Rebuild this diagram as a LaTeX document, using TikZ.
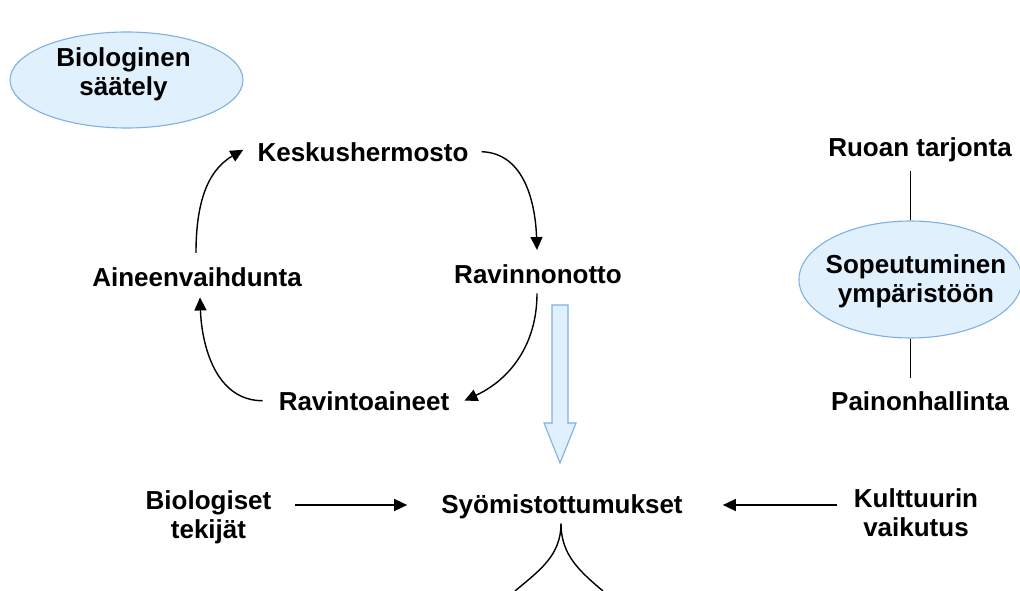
\documentclass[tikz,border=0pt]{standalone}
\usepackage{fontspec}
\setmainfont{Liberation Sans}
\usetikzlibrary{arrows.meta,shapes.geometric,calc}
\definecolor{ellfill}{HTML}{E1F0FD}
\definecolor{elldraw}{HTML}{7EB0E2}
\tikzset{
  txt/.style={inner sep=0pt, font=\fontsize{26}{29.5}\selectfont\bfseries, align=center},
  ell/.style={ellipse, draw=elldraw, fill=ellfill, line width=1.1pt, inner sep=0pt},
  arr/.style={line width=1.4pt, -{Triangle[length=13pt,width=12pt]}},
  plain/.style={line width=1.4pt},
  blockarrow/.style={draw=elldraw, fill=ellfill, line width=1.1pt, line join=miter}
}
\begin{document}
\begin{tikzpicture}[x=1pt,y=-1pt]
\useasboundingbox (0,0) rectangle (1020,591);
% ellipses
\node[ell, minimum width=233pt, minimum height=96pt] (bioe) at (126.5,80) {};
\node[txt, anchor=north] (biot) at (123.5,47.4) {Biologinen\\säätely};
\node[ell, minimum width=223pt, minimum height=117pt] (sop) at (910.5,279.5) {};
\node[txt, anchor=north] (sopt) at (916,254.4) {Sopeutuminen\\ympäristöön};
% cycle nodes
\node[txt, anchor=base] (kesk) at (363,161) {Keskushermosto};
\node[txt, anchor=base] (aine) at (197,286) {Aineenvaihdunta};
\node[txt, anchor=base] (rav) at (538,283) {Ravinnonotto};
\node[txt, anchor=base] (ravt) at (364,410) {Ravintoaineet};
% right column
\node[txt, anchor=base] (ruo) at (920,157) {Ruoan tarjonta};
\node[txt, anchor=base] (pain) at (920,410) {Painonhallinta};
% bottom row
\node[txt, anchor=base] (syo) at (562,513) {Syömistottumukset};
\node[txt, anchor=north] (bio) at (208.5,490.4) {Biologiset\\tekijät};
\node[txt, anchor=north] (kult) at (916,488.4) {Kulttuurin\\vaikutus};
% cycle arrows
\draw[arr] ([xshift=13pt]kesk.east) to[out=-2,in=92] ([xshift=-1pt,yshift=14pt]rav.north);
\draw[arr] ([xshift=-1pt,yshift=-10pt]rav.south) to[out=-90,in=25] ([xshift=15pt]ravt.east);
\draw[arr] ([xshift=-16pt]ravt.west) to[out=180,in=-88] ([xshift=3pt,yshift=-11pt]aine.south);
\draw[arr] ([xshift=-1pt,yshift=14pt]aine.north) to[out=90,in=210] ([xshift=-14pt,yshift=2pt]kesk.west);
% block arrow
\draw[blockarrow] (552,305) -- (568,305) -- (568,423) -- (576,423) -- (560,463) -- (544,423) -- (552,423) -- cycle;
% right column lines
\draw[plain, shorten >=8pt] (sop.north) -- (sop.north |- ruo.south);
\draw[plain, shorten >=13pt] (sop.south) -- (sop.south |- pain.north);
% horizontal arrows
\draw[arr] ($(bio.east |- syo.base west)+(23,-8)$) -- ($(syo.base west)+(-34,-8)$);
\draw[arr] ($(kult.west |- syo.base east)+(-17,-8)$) -- ($(syo.base east)+(40,-8)$);
% bottom cusp
\coordinate (bl) at (515,591);
\coordinate (br) at (603,591);
\draw[plain] ([xshift=-1pt,yshift=-5pt]syo.south) to[out=-90,in=40] (bl);
\draw[plain] ([xshift=-1pt,yshift=-5pt]syo.south) to[out=-90,in=140] (br);
\end{tikzpicture}
\end{document}
